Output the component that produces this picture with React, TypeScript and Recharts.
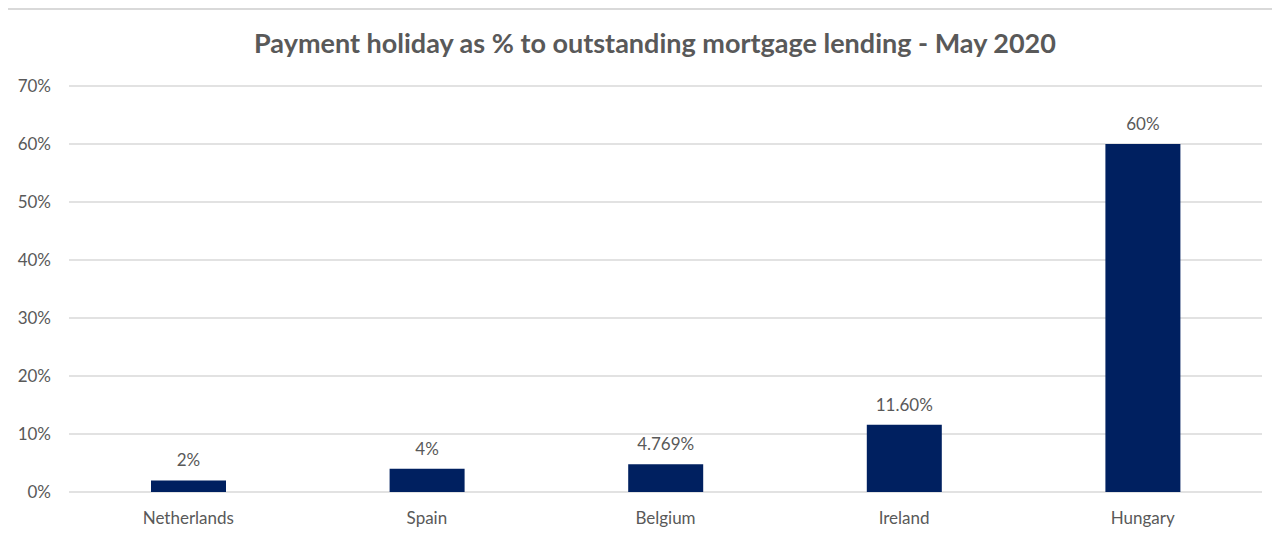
import { BarChart, Bar, XAxis, YAxis, CartesianGrid, LabelList } from 'recharts'

const countries = ['Netherlands', 'Spain', 'Belgium', 'Ireland', 'Hungary']
const holidayShare = [2, 4, 4.769, 11.6, 60]
const valueLabels = ['2%', '4%', '4.769%', '11.60%', '60%']
const yTicks = [0, 10, 20, 30, 40, 50, 60, 70]

const data = countries.map((country, i) => ({
  country,
  share: holidayShare[i],
  label: valueLabels[i],
}))

const font = 'Lato, "Open Sans", sans-serif'
const textColor = '#595959'

export default function App() {
  return (
    <div
      style={{
        position: 'relative',
        marginLeft: -2,
        width: 1274,
        height: 528,
        borderLeft: '2px solid #d9d9d9',
        borderTop: '2px solid #d9d9d9',
        boxSizing: 'border-box',
        fontFamily: font,
      }}
    >
      <div
        style={{
          position: 'absolute',
          left: 0,
          top: 17,
          width: 1294,
          textAlign: 'center',
          fontSize: 27,
          fontWeight: 700,
          color: textColor,
          lineHeight: '32px',
        }}
      >
        Payment holiday as % to outstanding mortgage lending - May 2020
      </div>
      <BarChart
        width={1272}
        height={526}
        data={data}
        margin={{ top: 76, right: 18, left: 0, bottom: 0 }}
      >
        <CartesianGrid vertical={false} stroke="#d9d9d9" strokeWidth={1.5} />
        <XAxis
          dataKey="country"
          height={44}
          axisLine={false}
          tickLine={false}
          tickSize={0}
          tickMargin={20}
          tick={{ fill: textColor, fontSize: 17, fontFamily: font }}
        />
        <YAxis
          width={61}
          domain={[0, 70]}
          ticks={yTicks}
          axisLine={false}
          tickLine={false}
          tickSize={0}
          tickMargin={18}
          tickFormatter={(v: number) => `${v}%`}
          tick={{ fill: textColor, fontSize: 17, fontFamily: font }}
        />
        <Bar dataKey="share" fill="#002060" barSize={75} isAnimationActive={false}>
          <LabelList
            dataKey="label"
            position="top"
            offset={14}
            fill={textColor}
            fontSize={17}
            fontFamily={font}
          />
        </Bar>
      </BarChart>
    </div>
  )
}
